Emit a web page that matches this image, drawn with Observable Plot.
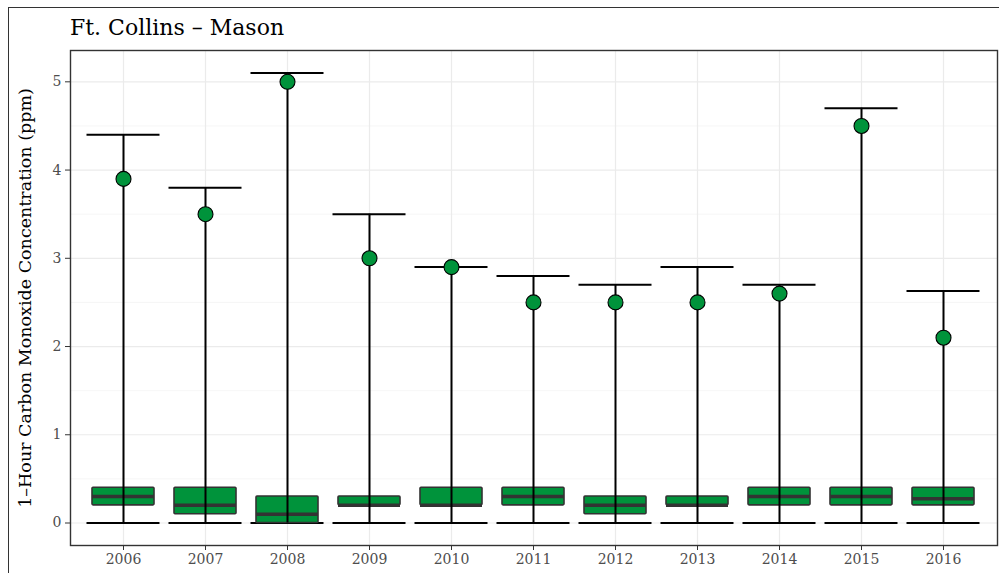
<!DOCTYPE html>
<html>
<head>
<meta charset="utf-8">
<script src="https://cdn.jsdelivr.net/npm/d3@7"></script>
<script src="https://cdn.jsdelivr.net/npm/@observablehq/plot@0.6"></script>
<style>
  html, body { margin: 0; padding: 0; background: #fff; overflow: hidden; }
  #wrap { position: relative; width: 999px; height: 573px; overflow: hidden; font-family: "DejaVu Serif", serif; }
  #outer { position: absolute; left: 8px; top: 7px; width: 1020px; height: 620px; border: 1.5px solid #333; box-sizing: border-box; }
  #title { position: absolute; left: 70px; top: 15px; font-size: 22px; color: #000; white-space: nowrap; }
  #chart { position: absolute; left: 0; top: 0; }
</style>
</head>
<body>
<div id="wrap">
  <div id="outer"></div>
  <div id="title">Ft. Collins – Mason</div>
  <div id="chart"></div>
</div>
<script>
const years   = [2006, 2007, 2008, 2009, 2010, 2011, 2012, 2013, 2014, 2015, 2016];
const maxVals = [4.4, 3.8, 5.1, 3.5, 2.9, 2.8, 2.7, 2.9, 2.7, 4.7, 2.63];
const points  = [3.9, 3.5, 5.0, 3.0, 2.9, 2.5, 2.5, 2.5, 2.6, 4.5, 2.1];
const minVals = [0, 0, 0, 0, 0, 0, 0, 0, 0, 0, 0];
const q1      = [0.2, 0.1, 0.0, 0.2, 0.2, 0.2, 0.1, 0.2, 0.2, 0.2, 0.2];
const median  = [0.3, 0.2, 0.1, 0.2, 0.2, 0.3, 0.2, 0.2, 0.3, 0.3, 0.275];
const q3      = [0.4, 0.4, 0.3, 0.3, 0.4, 0.4, 0.3, 0.3, 0.4, 0.4, 0.4];
const yTicks  = [0, 1, 2, 3, 4, 5];
const yMinor  = [0.5, 1.5, 2.5, 3.5, 4.5];
const yLabel  = "1–Hour Carbon Monoxide Concentration (ppm)";

const data = years.map((yr, i) => ({
  year: String(yr), max: maxVals[i], point: points[i], min: minVals[i],
  q1: q1[i], median: median[i], q3: q3[i]
}));

const green = "#00933b";
const dark = "#333333";

const chart = Plot.plot({
  width: 999,
  height: 573,
  marginLeft: 70,
  marginRight: 2,
  marginTop: 50,
  marginBottom: 28,
  style: { fontFamily: "DejaVu Serif", fontSize: "14px", background: "transparent", overflow: "visible" },
  x: { type: "band", domain: years.map(String), paddingInner: 0.24, paddingOuter: 0.22, label: null },
  y: { domain: [-0.255, 5.355], label: null },
  marks: [
    Plot.ruleY(yMinor, { stroke: "#f2f2f2", strokeWidth: 0.7 }),
    Plot.ruleY(yTicks, { stroke: "#ebebeb", strokeWidth: 1.2 }),
    Plot.ruleX(years.map(String), { x: d => d, stroke: "#ebebeb", strokeWidth: 1.2 }),
    Plot.ruleY(data, { x1: "year", x2: "year", y: "min", stroke: "#000", strokeWidth: 2, insetLeft: -5.5, insetRight: -5.5 }),
    Plot.barY(data, { x: "year", y1: "q1", y2: "q3", fill: green, stroke: dark, strokeWidth: 1.6, rx: 1 }),
    Plot.ruleY(data, { x1: "year", x2: "year", y: "median", stroke: dark, strokeWidth: 3.5 }),
    Plot.ruleX(data, { x: "year", y1: "min", y2: "max", stroke: "#000", strokeWidth: 2 }),
    Plot.ruleY(data, { x1: "year", x2: "year", y: "max", stroke: "#000", strokeWidth: 2, insetLeft: -5.5, insetRight: -5.5 }),
    Plot.dot(data, { x: "year", y: "point", r: 7.5, fill: green, stroke: "#000", strokeWidth: 1.1 }),
    Plot.frame({ stroke: dark, strokeWidth: 1.4 }),
    Plot.axisY(yTicks, { tickSize: 5, tickPadding: 4, stroke: dark, color: "#4d4d4d", fontSize: 14, label: null, tickFormat: d => String(d) }),
    Plot.axisX(years.map(String), { tickSize: 5, tickPadding: 4, stroke: dark, color: "#4d4d4d", fontSize: 14, label: null }),
    Plot.text([yLabel], { frameAnchor: "left", text: d => d, rotate: -90, dx: -45, textAnchor: "middle", fontSize: 17.5, fill: "#000" })
  ]
});
document.getElementById("chart").appendChild(chart);
</script>
</body>
</html>
